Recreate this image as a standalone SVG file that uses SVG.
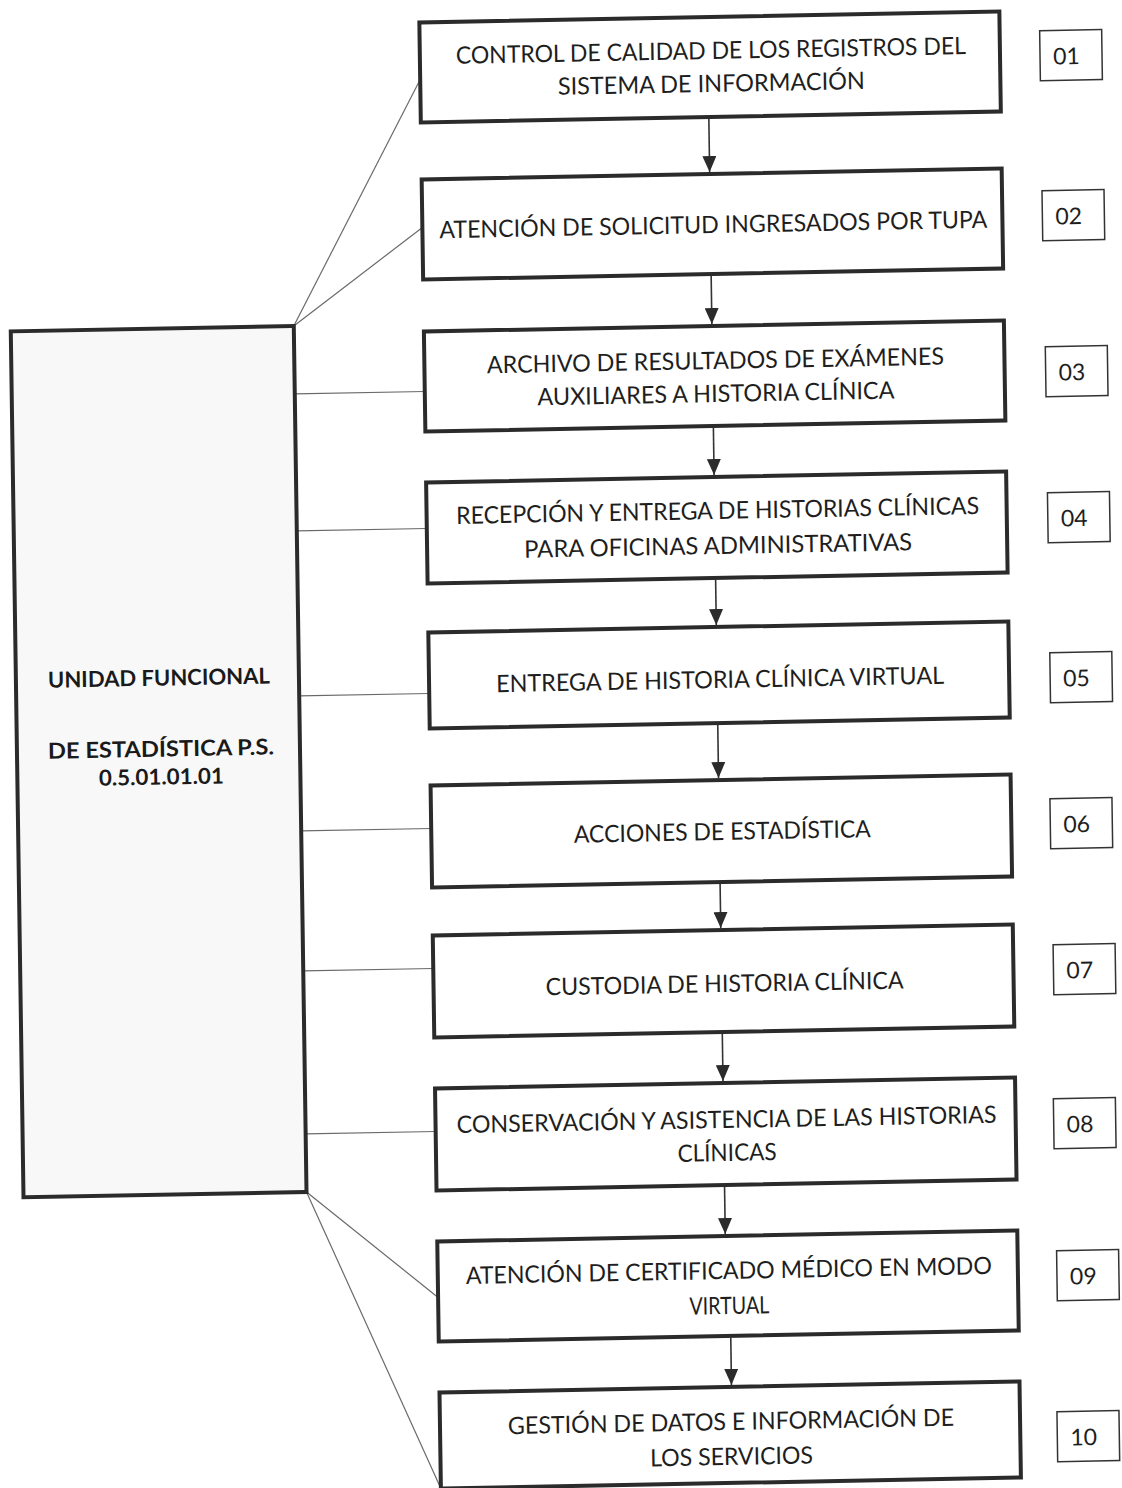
<svg xmlns="http://www.w3.org/2000/svg" width="1122" height="1488" viewBox="0 0 1122 1488">
  <defs>
    <style>
      .box { fill: #ffffff; stroke: #2b2b2b; stroke-width: 4; }
      .unit { fill: #f8f8f8; stroke: #2b2b2b; stroke-width: 4; }
      .num { fill: #ffffff; stroke: #333333; stroke-width: 1.5; }
      .link { stroke: #6a6a6a; stroke-width: 1.2; fill: none; }
      .flow { stroke: #333333; stroke-width: 1.6; fill: none; marker-end: url(#ah); }
      .lbl { font-family: Lato, "Open Sans", "Liberation Sans", sans-serif; font-size: 24px; fill: #1e1e1e; text-anchor: middle; }
      .unitlbl { font-family: Lato, "Open Sans", "Liberation Sans", sans-serif; font-size: 22px; font-weight: bold; fill: #1a1a1a; text-anchor: middle; }
      .numlbl { font-family: Lato, "Open Sans", "Liberation Sans", sans-serif; font-size: 23px; fill: #1e1e1e; }
    </style>
    <marker id="ah" viewBox="0 0 16 14" markerWidth="16" markerHeight="14" refX="16" refY="7" orient="auto" markerUnits="userSpaceOnUse">
      <path d="M0,0 L16,7 L0,14 z" fill="#2b2b2b"/>
    </marker>
  </defs>
  <rect width="1122" height="1488" fill="#ffffff"/>

  <!-- whole sheet sits slightly skewed on the page -->
  <g transform="matrix(1,-0.019,0.0147,1,-10.94,10.66)">

    <!-- connectors -->
    <g id="connectors">
      <line class="link" x1="300" y1="321" x2="430" y2="77"/>
      <line class="link" x1="300" y1="321" x2="430" y2="225"/>
      <line class="link" x1="300" y1="389" x2="430" y2="389"/>
      <line class="link" x1="300" y1="526" x2="430" y2="526"/>
      <line class="link" x1="300" y1="691" x2="430" y2="691"/>
      <line class="link" x1="300" y1="826" x2="430" y2="826"/>
      <line class="link" x1="300" y1="966" x2="430" y2="966"/>
      <line class="link" x1="300" y1="1129" x2="430" y2="1129"/>
      <line class="link" x1="300" y1="1187" x2="430" y2="1295"/>
      <line class="link" x1="300" y1="1187" x2="430" y2="1486"/>

      <line class="flow" x1="718" y1="122" x2="718" y2="175"/>
      <line class="flow" x1="718" y1="279" x2="718" y2="327"/>
      <line class="flow" x1="718" y1="431" x2="718" y2="478"/>
      <line class="flow" x1="718" y1="583" x2="718" y2="628"/>
      <line class="flow" x1="718" y1="728" x2="718" y2="781"/>
      <line class="flow" x1="718" y1="887" x2="718" y2="931"/>
      <line class="flow" x1="718" y1="1037" x2="718" y2="1084"/>
      <line class="flow" x1="718" y1="1190" x2="718" y2="1237"/>
      <line class="flow" x1="722" y1="1341" x2="722" y2="1388"/>
    </g>

    <!-- functional unit -->
    <g id="unidad">
      <rect class="unit" x="17" y="321" width="283" height="866"/>
      <text class="unitlbl" x="160" y="678" textLength="222" lengthAdjust="spacingAndGlyphs">UNIDAD FUNCIONAL</text>
      <text class="unitlbl" x="161" y="749" textLength="226" lengthAdjust="spacingAndGlyphs">DE ESTADÍSTICA P.S.</text>
      <text class="unitlbl" x="161" y="777" textLength="125" lengthAdjust="spacingAndGlyphs">0.5.01.01.01</text>
    </g>

    <!-- process steps -->
    <g id="p01">
      <rect class="box" x="430" y="20" width="580" height="100"/>
      <text class="lbl" x="721" y="62" textLength="510" lengthAdjust="spacingAndGlyphs">CONTROL DE CALIDAD DE LOS REGISTROS DEL</text>
      <text class="lbl" x="721" y="95" textLength="307" lengthAdjust="spacingAndGlyphs">SISTEMA DE INFORMACIÓN</text>
    </g>
    <g id="p02">
      <rect class="box" x="430" y="177" width="580" height="100"/>
      <text class="lbl" x="721" y="236" textLength="548" lengthAdjust="spacingAndGlyphs">ATENCIÓN DE SOLICITUD INGRESADOS POR TUPA</text>
    </g>
    <g id="p03">
      <rect class="box" x="430" y="329" width="580" height="100"/>
      <text class="lbl" x="721" y="372" textLength="457" lengthAdjust="spacingAndGlyphs">ARCHIVO DE RESULTADOS DE EXÁMENES</text>
      <text class="lbl" x="721" y="405" textLength="357" lengthAdjust="spacingAndGlyphs">AUXILIARES A HISTORIA CLÍNICA</text>
    </g>
    <g id="p04">
      <rect class="box" x="430" y="480" width="580" height="101"/>
      <text class="lbl" x="721" y="522" textLength="523" lengthAdjust="spacingAndGlyphs">RECEPCIÓN Y ENTREGA DE HISTORIAS CLÍNICAS</text>
      <text class="lbl" x="721" y="557" textLength="388" lengthAdjust="spacingAndGlyphs">PARA OFICINAS ADMINISTRATIVAS</text>
    </g>
    <g id="p05">
      <rect class="box" x="430" y="630" width="580" height="96"/>
      <text class="lbl" x="721" y="691" textLength="448" lengthAdjust="spacingAndGlyphs">ENTREGA DE HISTORIA CLÍNICA VIRTUAL</text>
    </g>
    <g id="p06">
      <rect class="box" x="430" y="783" width="580" height="102"/>
      <text class="lbl" x="721" y="843" textLength="297" lengthAdjust="spacingAndGlyphs">ACCIONES DE ESTADÍSTICA</text>
    </g>
    <g id="p07">
      <rect class="box" x="430" y="933" width="580" height="102"/>
      <text class="lbl" x="721" y="995" textLength="358" lengthAdjust="spacingAndGlyphs">CUSTODIA DE HISTORIA CLÍNICA</text>
    </g>
    <g id="p08">
      <rect class="box" x="430" y="1086" width="580" height="102"/>
      <text class="lbl" x="721" y="1131" textLength="540" lengthAdjust="spacingAndGlyphs">CONSERVACIÓN Y ASISTENCIA DE LAS HISTORIAS</text>
      <text class="lbl" x="721" y="1164" textLength="99" lengthAdjust="spacingAndGlyphs">CLÍNICAS</text>
    </g>
    <g id="p09">
      <rect class="box" x="430" y="1239" width="580" height="100"/>
      <text class="lbl" x="721" y="1282" textLength="526" lengthAdjust="spacingAndGlyphs">ATENCIÓN DE CERTIFICADO MÉDICO EN MODO</text>
      <text class="lbl" x="721" y="1317" textLength="80" lengthAdjust="spacingAndGlyphs">VIRTUAL</text>
    </g>
    <g id="p10">
      <rect class="box" x="430" y="1390" width="580" height="96"/>
      <text class="lbl" x="721" y="1433" textLength="446" lengthAdjust="spacingAndGlyphs">GESTIÓN DE DATOS E INFORMACIÓN DE</text>
      <text class="lbl" x="721" y="1468" textLength="163" lengthAdjust="spacingAndGlyphs">LOS SERVICIOS</text>
    </g>

    <!-- step numbers -->
    <g id="n01"><rect class="num" x="1050" y="40" width="62" height="50"/><text class="numlbl" x="1063" y="74">01</text></g>
    <g id="n02"><rect class="num" x="1050" y="200" width="62" height="50"/><text class="numlbl" x="1063" y="234">02</text></g>
    <g id="n03"><rect class="num" x="1051" y="356" width="62" height="50"/><text class="numlbl" x="1064" y="390">03</text></g>
    <g id="n04"><rect class="num" x="1051" y="502" width="62" height="50"/><text class="numlbl" x="1064" y="536">04</text></g>
    <g id="n05"><rect class="num" x="1051" y="662" width="62" height="50"/><text class="numlbl" x="1064" y="696">05</text></g>
    <g id="n06"><rect class="num" x="1049" y="808" width="62" height="50"/><text class="numlbl" x="1062" y="842">06</text></g>
    <g id="n07"><rect class="num" x="1050" y="954" width="62" height="50"/><text class="numlbl" x="1063" y="988">07</text></g>
    <g id="n08"><rect class="num" x="1048" y="1108" width="62" height="50"/><text class="numlbl" x="1061" y="1142">08</text></g>
    <g id="n09"><rect class="num" x="1049" y="1260" width="62" height="50"/><text class="numlbl" x="1062" y="1294">09</text></g>
    <g id="n10"><rect class="num" x="1047" y="1421" width="62" height="50"/><text class="numlbl" x="1060" y="1455">10</text></g>
  </g>
</svg>
